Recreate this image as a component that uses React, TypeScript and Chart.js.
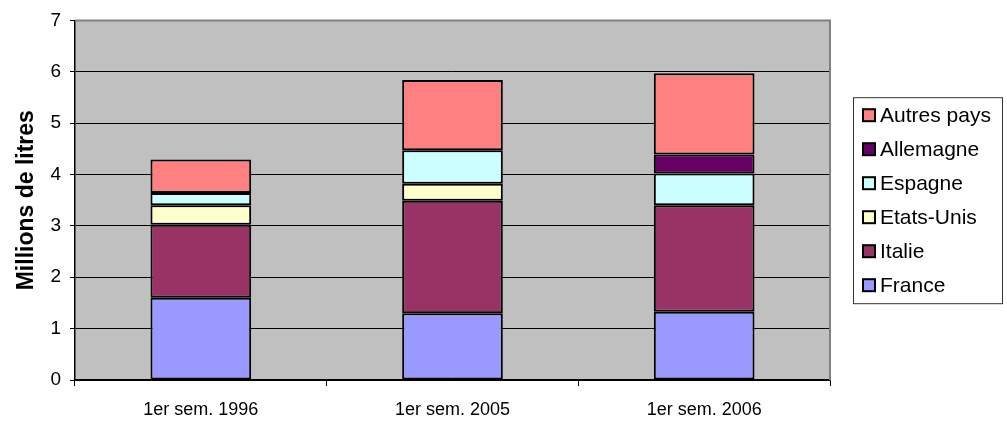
import React, { useEffect, useRef } from "react";
import { Chart, registerables } from "chart.js";

Chart.register(...registerables);

const categories = ["1er sem. 1996", "1er sem. 2005", "1er sem. 2006"];
const seriesNames = ["France", "Italie", "Etats-Unis", "Espagne", "Allemagne", "Autres pays"];
const france = [1.6, 1.3, 1.33];
const italie = [1.42, 2.19, 2.07];
const etatsUnis = [0.38, 0.33, 0];
const espagne = [0.24, 0.65, 0.62];
const allemagne = [0, 0, 0.37];
const autresPays = [0.65, 1.37, 1.58];
const seriesColors = ["#9999FF", "#993366", "#FFFFCC", "#CCFFFF", "#660066", "#FF8080"];
const yTicks = [0, 1, 2, 3, 4, 5, 6, 7];

const FONT = "'Liberation Sans', Arial, sans-serif";

const plotBackground = {
  id: "plotBackground",
  beforeDraw(chart: any) {
    const { ctx, chartArea } = chart;
    ctx.save();
    ctx.fillStyle = "#C0C0C0";
    ctx.fillRect(chartArea.left, chartArea.top, chartArea.right - chartArea.left, chartArea.bottom - chartArea.top);
    ctx.restore();
  },
  beforeDatasetsDraw(chart: any) {
    const { ctx, chartArea } = chart;
    ctx.save();
    ctx.strokeStyle = "#808080";
    ctx.lineWidth = 2;
    ctx.beginPath();
    ctx.moveTo(chartArea.left, chartArea.top);
    ctx.lineTo(chartArea.right, chartArea.top);
    ctx.lineTo(chartArea.right, chartArea.bottom);
    ctx.stroke();
    ctx.restore();
  },
};

const boxLegend = {
  id: "boxLegend",
  afterDraw(chart: any) {
    const { ctx, chartArea } = chart;
    const datasets = chart.data.datasets;
    const left = chartArea.right + 23;
    const width = 149;
    const spacing = 34;
    const n = datasets.length;
    const height = spacing * n + 2;
    const centerY = (chartArea.top + chartArea.bottom) / 2;
    const top = centerY - height / 2;
    ctx.save();
    ctx.fillStyle = "#FFFFFF";
    ctx.fillRect(left, top, width, height);
    ctx.strokeStyle = "#333333";
    ctx.lineWidth = 1;
    ctx.strokeRect(left + 0.5, top + 0.5, width, height);
    ctx.font = `21px ${FONT}`;
    ctx.textBaseline = "middle";
    ctx.textAlign = "left";
    for (let i = 0; i < n; i++) {
      const ds = datasets[n - 1 - i];
      const cy = top + spacing / 2 + 1 + i * spacing;
      ctx.fillStyle = ds.backgroundColor;
      ctx.fillRect(left + 10, cy - 6, 12, 12);
      ctx.strokeStyle = "#000000";
      ctx.lineWidth = 2;
      ctx.strokeRect(left + 10, cy - 6, 12, 12);
      ctx.fillStyle = "#000000";
      ctx.fillText(ds.label, left + 27, cy + 1);
    }
    ctx.restore();
  },
};

export default function App() {
  const canvasRef = useRef<HTMLCanvasElement | null>(null);

  useEffect(() => {
    if (!canvasRef.current) return;
    const values = [france, italie, etatsUnis, espagne, allemagne, autresPays];
    const chart = new Chart(canvasRef.current, {
      type: "bar",
      data: {
        labels: categories,
        datasets: seriesNames.map((name, i) => ({
          label: name,
          data: values[i],
          backgroundColor: seriesColors[i],
          borderColor: "#000000",
          borderWidth: 2,
          borderSkipped: false,
          barPercentage: 0.4,
          categoryPercentage: 1,
        })),
      },
      options: {
        animation: false,
        responsive: false,
        maintainAspectRatio: false,
        layout: { padding: { top: 20, right: 177, left: 0, bottom: 0 } },
        plugins: {
          legend: { display: false },
          tooltip: { enabled: false },
        },
        scales: {
          x: {
            stacked: true,
            offset: true,
            grid: {
              offset: true,
              drawOnChartArea: false,
              drawTicks: true,
              tickLength: 6,
              color: "#000000",
            },
            border: { display: true, color: "#000000", width: 1.5 },
            ticks: {
              color: "#000000",
              font: { family: FONT, size: 18 },
              padding: 13,
              maxRotation: 0,
            },
            afterFit(scale: any) {
              scale.height = 42;
            },
          },
          y: {
            stacked: true,
            min: 0,
            max: 7,
            afterBuildTicks(scale: any) {
              scale.ticks = yTicks.map((v) => ({ value: v }));
            },
            grid: {
              color: "#000000",
              lineWidth: 1,
              drawTicks: true,
              tickLength: 5,
            },
            border: { display: true, color: "#000000", width: 1.5 },
            ticks: {
              color: "#000000",
              font: { family: FONT, size: 19 },
              padding: 9,
            },
            title: {
              display: true,
              text: "Millions de litres",
              color: "#000000",
              font: { family: FONT, size: 23, weight: "bold" },
              padding: { top: 13, bottom: 0 },
            },
            afterFit(scale: any) {
              scale.width = 75;
            },
          },
        },
      },
      plugins: [plotBackground, boxLegend],
    });
    return () => chart.destroy();
  }, []);

  return (
    <div style={{ position: "absolute", left: 0, top: 0, width: 1007, height: 422, background: "#FFFFFF" }}>
      <canvas ref={canvasRef} width={1007} height={422} style={{ width: 1007, height: 422, display: "block" }} />
    </div>
  );
}
